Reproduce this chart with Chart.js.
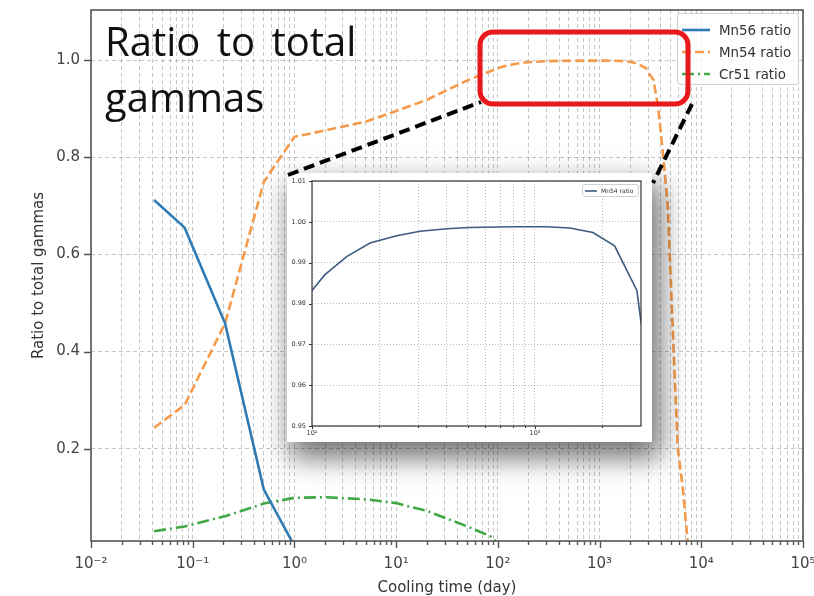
<!DOCTYPE html>
<html lang="en">
<head>
<meta charset="UTF-8">
<title>Ratio to total gammas</title>
<script src="https://cdn.jsdelivr.net/npm/chart.js"></script>
<style>
    body {
        margin: 0;
        background: #fff;
        font-family: "DejaVu Sans", sans-serif;
    }
    #wrap {
        position: relative;
        width: 814px;
        height: 596px;
        overflow: hidden;
    }
    #mainChart { position: absolute; left: 0; top: 0; }
    #title {
        position: absolute;
        left: 105px;
        top: 13px;
        font-family: "Open Sans", sans-serif;
        font-size: 40px;
        word-spacing: 6px;
        line-height: 56px;
        color: #111;
        white-space: nowrap;
    }
    .legend {
        position: absolute;
        box-sizing: border-box;
        border: 1px solid #d0d0d0;
        border-radius: 3px;
        background: rgba(255, 255, 255, 0.85);
        color: #333;
    }
    .legend .row { display: flex; align-items: center; }
    .legend svg { display: block; }
    #legend { left: 677px; top: 13px; width: 122px; height: 72px; padding: 5px 0 0 4px; font-size: 13.4px; }
    #legend .row { height: 22px; }
    #legend svg { margin-right: 9px; }
    #inset {
        position: absolute;
        left: 287px;
        top: 173px;
        width: 365px;
        height: 269px;
        background: #fff;
        box-shadow: 6px 13px 26px 3px rgba(0, 0, 0, 0.55);
    }
    #insetChart { position: absolute; left: 0; top: 0; }
    #insetLegend { left: 295px; top: 11px; width: 57px; height: 13px; padding: 0 0 0 2px; font-size: 6px; }
    #insetLegend .row { height: 11px; }
    #insetLegend svg { margin-right: 4px; }
    #callout { position: absolute; left: 0; top: 0; pointer-events: none; }
</style>
</head>
<body>
<div id="wrap">
    <canvas id="mainChart" width="814" height="596"></canvas>
    <div id="title">Ratio to total<br>gammas</div>
    <div id="legend" class="legend"></div>
    <div id="inset">
        <canvas id="insetChart" width="365" height="269"></canvas>
        <div id="insetLegend" class="legend"></div>
    </div>
    <svg id="callout" width="814" height="596">
        <rect x="480" y="32" width="208" height="72" rx="13" fill="none" stroke="#e8191c" stroke-width="5"/>
        <line x1="288" y1="175" x2="481" y2="102" stroke="#000" stroke-width="4" stroke-dasharray="11 6"/>
        <line x1="692" y1="104" x2="653" y2="183" stroke="#000" stroke-width="4" stroke-dasharray="11 6"/>
    </svg>
</div>

<script>
    // cooling time in days, ratio of each nuclide to total gammas
    const mn56Days  = [0.0417, 0.0833, 0.208, 0.5, 1];
    const mn56Ratio = [0.712, 0.655, 0.458, 0.116, 0.0];

    const mn54Days  = [0.0417, 0.0833, 0.208, 0.5, 1, 2, 5, 10, 20, 50,
                       100, 114, 143, 182, 240, 305, 402, 510, 795, 1125, 1435, 1820, 2276, 2865, 2985,
                       3390, 3760, 4070, 4365, 4680, 5500, 5890, 6600, 7410];
    const mn54Ratio = [0.243, 0.290, 0.458, 0.749, 0.842, 0.855, 0.873, 0.895, 0.918, 0.958,
                       0.9832, 0.987, 0.9915, 0.9948, 0.9966, 0.9977, 0.9983, 0.9986, 0.9988, 0.9988, 0.9985, 0.9974, 0.9941, 0.9832, 0.9758,
                       0.959, 0.903, 0.836, 0.77, 0.70, 0.34, 0.20, 0.116, 0.0];

    const cr51Days  = [0.0417, 0.0833, 0.208, 0.5, 1, 2, 5, 10, 20, 50, 84, 100];
    const cr51Ratio = [0.030, 0.040, 0.061, 0.087, 0.099, 0.100, 0.096, 0.088, 0.072, 0.040, 0.020, 0.005];

    // axis ticks
    const xDecades      = [0.01, 0.1, 1, 10, 100, 1000, 10000, 100000];
    const xDecadeLabels = ['10⁻²', '10⁻¹', '10⁰', '10¹', '10²', '10³', '10⁴', '10⁵'];
    const yTicks        = [0.2, 0.4, 0.6, 0.8, 1.0];

    const insetXTicks  = [100, 200, 300, 400, 500, 600, 700, 800, 900, 1000, 2000];
    const insetXLabels = { 100: '10²', 1000: '10³' };
    const insetYTicks  = [0.95, 0.96, 0.97, 0.98, 0.99, 1.00, 1.01];

    // minor log ticks 2..9 inside each decade
    const xTickValues = [];
    xDecades.forEach((d, i) => {
        xTickValues.push(d);
        if (i < xDecades.length - 1) {
            for (let m = 2; m <= 9; m++) xTickValues.push(+(d * m).toPrecision(3));
        }
    });

    const toPoints = (xs, ys) => xs.map((x, i) => ({ x: x, y: ys[i] }));

    // fixed axis sizes, no extra room for overhanging labels
    const fitX = h => axis => { axis.height = h; axis.paddingLeft = 0; axis.paddingRight = 0; };
    const fitY = w => axis => { axis.width = w; axis.paddingTop = 0; axis.paddingBottom = 0; };

    // axes box + outward tick marks, longer on labelled ticks
    const framePlugin = {
        id: 'frame',
        afterDraw(chart, args, opts) {
            const { ctx, chartArea: a, scales: { x, y } } = chart;
            ctx.save();
            ctx.strokeStyle = opts.color;
            ctx.lineWidth = opts.width;
            ctx.strokeRect(a.left, a.top, a.right - a.left, a.bottom - a.top);
            ctx.beginPath();
            x.ticks.forEach(t => {
                const px = Math.round(x.getPixelForValue(t.value)) + 0.5;
                const len = t.label !== '' ? opts.major : opts.minor;
                ctx.moveTo(px, a.bottom);
                ctx.lineTo(px, a.bottom + len);
            });
            y.ticks.forEach(t => {
                const py = Math.round(y.getPixelForValue(t.value)) + 0.5;
                ctx.moveTo(a.left, py);
                ctx.lineTo(a.left - opts.major, py);
            });
            ctx.lineWidth = opts.tickWidth;
            ctx.stroke();
            ctx.restore();
        }
    };

    const mainFont = { family: 'DejaVu Sans', size: 15 };

    const mainChart = new Chart(document.getElementById('mainChart'), {
        type: 'line',
        data: {
            datasets: [{
                label: 'Mn56 ratio',
                data: toPoints(mn56Days, mn56Ratio),
                borderColor: '#2f7bb6',
                borderWidth: 2.6
            }, {
                label: 'Mn54 ratio',
                data: toPoints(mn54Days, mn54Ratio),
                borderColor: '#f59a4a',
                borderWidth: 2.6,
                borderDash: [9, 4]
            }, {
                label: 'Cr51 ratio',
                data: toPoints(cr51Days, cr51Ratio),
                borderColor: '#3fa844',
                borderWidth: 2.6,
                borderDash: [12, 4, 2, 4]
            }]
        },
        options: {
            responsive: false,
            animation: false,
            events: [],
            elements: { point: { radius: 0 }, line: { tension: 0 } },
            layout: { padding: { top: 10, right: 11, left: 0, bottom: 0 } },
            plugins: {
                legend: { display: false },
                tooltip: { enabled: false },
                frame: { color: '#555', width: 1.6, tickWidth: 1.4, major: 7, minor: 4 }
            },
            scales: {
                x: {
                    type: 'logarithmic',
                    min: 0.01,
                    max: 100000,
                    afterBuildTicks: axis => { axis.ticks = xTickValues.map(v => ({ value: v })); },
                    afterFit: fitX(55),
                    ticks: {
                        autoSkip: false,
                        maxRotation: 0,
                        padding: 14,
                        color: '#444',
                        font: mainFont,
                        callback: v => {
                            const i = xDecades.indexOf(v);
                            return i >= 0 ? xDecadeLabels[i] : '';
                        }
                    },
                    grid: { color: 'rgba(0,0,0,0.22)', drawTicks: false },
                    border: { display: false, dash: [4, 3] },
                    title: {
                        display: true,
                        text: 'Cooling time (day)',
                        color: '#333',
                        font: mainFont,
                        padding: { top: 0, bottom: -1 }
                    }
                },
                y: {
                    min: 0.01,
                    max: 1.103,
                    afterBuildTicks: axis => { axis.ticks = yTicks.map(v => ({ value: v })); },
                    afterFit: fitY(91),
                    ticks: {
                        padding: 11,
                        color: '#444',
                        font: mainFont,
                        callback: v => v.toFixed(1)
                    },
                    grid: { color: 'rgba(0,0,0,0.22)', drawTicks: false },
                    border: { display: false, dash: [4, 3] },
                    title: {
                        display: true,
                        text: 'Ratio to total gammas',
                        color: '#333',
                        font: mainFont,
                        padding: { top: 30, bottom: 0 }
                    }
                }
            }
        },
        plugins: [framePlugin]
    });

    const insetFont = { family: 'DejaVu Sans', size: 6.5 };

    const insetChart = new Chart(document.getElementById('insetChart'), {
        type: 'line',
        data: {
            datasets: [{
                label: 'Mn54 ratio',
                data: toPoints(mn54Days, mn54Ratio),
                borderColor: '#3d5a80',
                borderWidth: 1.6
            }]
        },
        options: {
            responsive: false,
            animation: false,
            events: [],
            elements: { point: { radius: 0 }, line: { tension: 0 } },
            layout: { padding: { top: 8, right: 11, left: 0, bottom: 0 } },
            plugins: {
                legend: { display: false },
                tooltip: { enabled: false },
                frame: { color: '#333', width: 1.2, tickWidth: 1, major: 3, minor: 2 }
            },
            scales: {
                x: {
                    type: 'logarithmic',
                    min: 100,
                    max: 2990,
                    afterBuildTicks: axis => { axis.ticks = insetXTicks.map(v => ({ value: v })); },
                    afterFit: fitX(16),
                    ticks: {
                        autoSkip: false,
                        maxRotation: 0,
                        padding: 3,
                        color: '#333',
                        font: insetFont,
                        callback: v => insetXLabels[v] || ''
                    },
                    grid: { color: 'rgba(0,0,0,0.28)', drawTicks: false },
                    border: { display: false, dash: [1, 2] }
                },
                y: {
                    min: 0.95,
                    max: 1.01,
                    afterBuildTicks: axis => { axis.ticks = insetYTicks.map(v => ({ value: v })); },
                    afterFit: fitY(25),
                    ticks: {
                        padding: 6,
                        color: '#333',
                        font: insetFont,
                        callback: v => v.toFixed(2)
                    },
                    grid: { color: 'rgba(0,0,0,0.28)', drawTicks: false },
                    border: { display: false, dash: [1, 2] }
                }
            }
        },
        plugins: [framePlugin]
    });

    // legend boxes built from the datasets' own styles
    function buildLegend(chart, el, sampleLen, sampleWidth) {
        chart.data.datasets.forEach(ds => {
            const row = document.createElement('div');
            row.className = 'row';
            const dash = (ds.borderDash || []).join(' ');
            row.innerHTML =
                '<svg width="' + sampleLen + '" height="8">' +
                '<line x1="0" y1="4" x2="' + sampleLen + '" y2="4" stroke="' + ds.borderColor +
                '" stroke-width="' + sampleWidth + '"' + (dash ? ' stroke-dasharray="' + dash + '"' : '') + '/></svg>' +
                '<span>' + ds.label + '</span>';
            el.appendChild(row);
        });
    }
    buildLegend(mainChart, document.getElementById('legend'), 28, 2.6);
    buildLegend(insetChart, document.getElementById('insetLegend'), 12, 1.6);
</script>
</body>
</html>
